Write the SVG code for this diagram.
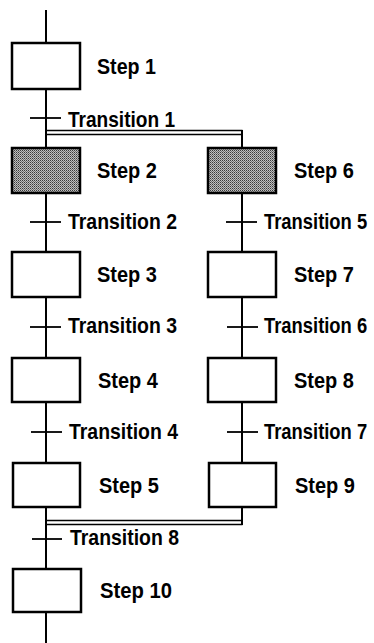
<svg xmlns="http://www.w3.org/2000/svg" width="374" height="643" viewBox="0 0 374 643">
<style>
.box{fill:#fff;stroke:#000;stroke-width:2.5}
.act{fill:url(#dots);stroke:#000;stroke-width:2.5}
.ln{stroke:#000;stroke-width:2;fill:none}
.dl{stroke:#000;stroke-width:1.5;fill:none}
.tk{stroke:#000;stroke-width:1.8}
text{font-family:"Liberation Sans",Arial,sans-serif;font-size:21.5px;font-weight:bold;fill:#000}
</style>
<defs>
<pattern id="dots" width="2" height="2" patternUnits="userSpaceOnUse">
<rect width="2" height="2" fill="#c0c0c0"/>
<rect width="1" height="1" fill="#3a3a3a"/>
<rect x="1" y="1" width="1" height="1" fill="#707070"/>
</pattern>
</defs>
<g id="connectors">
<line class="ln" x1="46" y1="10" x2="46" y2="643"/>
<line class="ln" x1="242" y1="130" x2="242" y2="525"/>
<polyline class="dl" points="46,130.5 242.5,130.5"/>
<polyline class="dl" points="46,134.5 241,134.5"/>
<polyline class="dl" points="46,520.5 241,520.5"/>
<polyline class="dl" points="46,524.5 242.5,524.5"/>
<line class="tk" x1="30" y1="118" x2="61" y2="118"/>
<line class="tk" x1="30" y1="222" x2="61" y2="222"/>
<line class="tk" x1="30" y1="327" x2="61" y2="327"/>
<line class="tk" x1="31" y1="432" x2="62" y2="432"/>
<line class="tk" x1="32" y1="539" x2="62" y2="539"/>
<line class="tk" x1="226" y1="222" x2="257" y2="222"/>
<line class="tk" x1="227" y1="327" x2="258" y2="327"/>
<line class="tk" x1="227" y1="432" x2="258" y2="432"/>
</g>
<g id="step1"><rect class="box" x="12" y="43" width="68" height="46"/><text x="97" y="74" textLength="59" lengthAdjust="spacingAndGlyphs">Step 1</text></g>
<g id="step2"><rect class="act" x="12" y="148" width="68" height="45"/><text x="97" y="178" textLength="60" lengthAdjust="spacingAndGlyphs">Step 2</text></g>
<g id="step3"><rect class="box" x="12" y="252" width="68" height="45"/><text x="97" y="282" textLength="60" lengthAdjust="spacingAndGlyphs">Step 3</text></g>
<g id="step4"><rect class="box" x="12" y="358" width="68" height="44"/><text x="98" y="388" textLength="60" lengthAdjust="spacingAndGlyphs">Step 4</text></g>
<g id="step5"><rect class="box" x="13" y="463" width="67" height="44"/><text x="99" y="493" textLength="60" lengthAdjust="spacingAndGlyphs">Step 5</text></g>
<g id="step6"><rect class="act" x="208" y="148" width="68" height="45"/><text x="294" y="178" textLength="60" lengthAdjust="spacingAndGlyphs">Step 6</text></g>
<g id="step7"><rect class="box" x="208" y="252" width="68" height="45"/><text x="294" y="282" textLength="60" lengthAdjust="spacingAndGlyphs">Step 7</text></g>
<g id="step8"><rect class="box" x="208" y="358" width="68" height="44"/><text x="294" y="388" textLength="60" lengthAdjust="spacingAndGlyphs">Step 8</text></g>
<g id="step9"><rect class="box" x="209" y="463" width="67" height="44"/><text x="295" y="493" textLength="60" lengthAdjust="spacingAndGlyphs">Step 9</text></g>
<g id="step10"><rect class="box" x="13" y="569" width="68" height="43"/><text x="100" y="598" textLength="72" lengthAdjust="spacingAndGlyphs">Step 10</text></g>
<g id="t1"><text x="68" y="127" textLength="107" lengthAdjust="spacingAndGlyphs">Transition 1</text></g>
<g id="t2"><text x="68" y="229" textLength="109" lengthAdjust="spacingAndGlyphs">Transition 2</text></g>
<g id="t3"><text x="68" y="333" textLength="109" lengthAdjust="spacingAndGlyphs">Transition 3</text></g>
<g id="t4"><text x="69" y="439" textLength="109" lengthAdjust="spacingAndGlyphs">Transition 4</text></g>
<g id="t5"><text transform="translate(264,229) scale(0.855,1)">Transition 5</text></g>
<g id="t6"><text transform="translate(264,333) scale(0.855,1)">Transition 6</text></g>
<g id="t7"><text transform="translate(264,439) scale(0.855,1)">Transition 7</text></g>
<g id="t8"><text x="70" y="545" textLength="109" lengthAdjust="spacingAndGlyphs">Transition 8</text></g>
</svg>
